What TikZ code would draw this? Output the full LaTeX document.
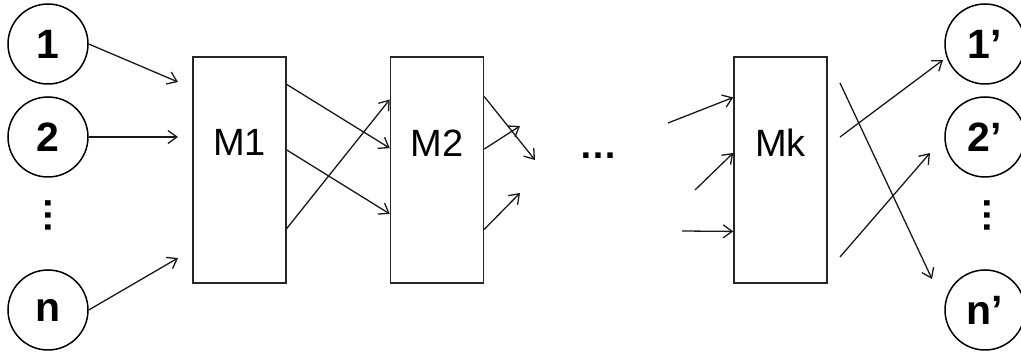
\documentclass[tikz,border=0pt]{standalone}
\usepackage{fontspec}
\setmainfont{Liberation Sans}
\usetikzlibrary{arrows.meta,calc}
\begin{document}
\begin{tikzpicture}[x=1pt,y=-1pt,
  circ/.style={draw=black,line width=1.5pt,circle,minimum size=80pt,inner sep=0pt,font=\fontsize{41pt}{43pt}\selectfont\bfseries},
  box/.style={draw=black!85,line width=1.5pt,rectangle,minimum width=93pt,minimum height=226pt,inner sep=0pt},
  lbl/.style={inner sep=0pt,font=\fontsize{38pt}{40pt}\selectfont},
  dots/.style={inner sep=0pt,font=\fontsize{38pt}{40pt}\selectfont\bfseries},
  arr/.style={draw=black!90,line width=1.3pt,-{Straight Barb[length=9pt,width=13pt]}}
]
\useasboundingbox (0,0) rectangle (1021,352);
\clip (0,0) rectangle (1021,352);
% left circles
\node[circ] (c1) at (48,44) {1};
\node[circ] (c2) at (48,137) {2};
\node[circ] (cn) at (48,310) {n};
\node[dots,rotate=-90] (vl) at (48,216) {…};
% boxes
\node[box] (M1) at (239.5,170) {};
\node[box] (M2) at (437,170) {};
\node[box] (Mk) at (780.5,170) {};
\node[lbl] (M1t) at ([yshift=28pt]M1.center) {M1};
\node[lbl] (M2t) at ([yshift=27pt]M2.center) {M2};
\node[lbl] (Mkt) at ([yshift=27pt]Mk.center) {Mk};
\node[dots] (hd) at (598,156) {…};
% right circles
\node[circ] (d1) at (985,44) {1’};
\node[circ] (d2) at (985,137) {2’};
\node[circ] (dn) at (985,310) {n’};
\node[dots,rotate=-90] (vr) at (987,216) {…};
% free coordinates
\coordinate (a1) at (178,82);
\coordinate (a2) at (178,137);
\coordinate (an) at (178,258);
\coordinate (b1) at (535,160);
\coordinate (b2) at (520,126);
\coordinate (b3) at (520,193);
\coordinate (k1) at (668,123);
\coordinate (k2) at (695,190);
\coordinate (k3) at (682,231);
\coordinate (o1) at (840,137);
\coordinate (o2) at (840,83);
\coordinate (o3) at (840,257);
\coordinate (e1) at (943,60);
\coordinate (e2) at (932,279);
\coordinate (e3) at (930,153);
% inputs to M1
\draw[arr] (c1.east) -- (a1);
\draw[arr] (c2.east) -- (a2);
\draw[arr] (cn.east) -- (an);
% M1 -> M2
\draw[arr] ($(M1.north east)!.124!(M1.south east)$) -- ($(M2.north west)!.404!(M2.south west)$);
\draw[arr] ($(M1.north east)!.412!(M1.south east)$) -- ($(M2.north west)!.693!(M2.south west)$);
\draw[arr] ($(M1.north east)!.757!(M1.south east)$) -- ($(M2.north west)!.19!(M2.south west)$);
% M2 outputs
\draw[arr] ($(M2.north east)!.177!(M2.south east)$) -- (b1);
\draw[arr] ($(M2.north east)!.408!(M2.south east)$) -- (b2);
\draw[arr] ($(M2.north east)!.761!(M2.south east)$) -- (b3);
% Mk inputs
\draw[arr] (k1) -- ($(Mk.north west)!.181!(Mk.south west)$);
\draw[arr] (k2) -- ($(Mk.north west)!.425!(Mk.south west)$);
\draw[arr] (k3) -- ($(Mk.north west)!.770!(Mk.south west)$);
% Mk outputs
\draw[arr] (o1) -- (e1);
\draw[arr] (o2) -- (e2);
\draw[arr] (o3) -- (e3);
\end{tikzpicture}
\end{document}
